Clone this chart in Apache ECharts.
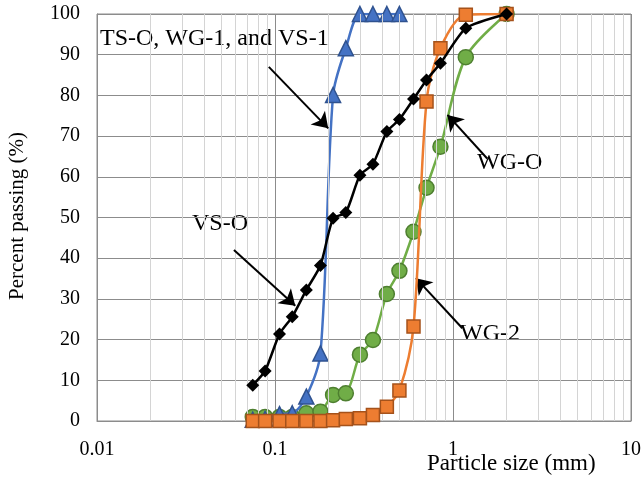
<!DOCTYPE html>
<html>
<head>
<meta charset="utf-8">
<script src="https://cdn.jsdelivr.net/npm/echarts@6/dist/echarts.min.js"></script>
<style>html,body{margin:0;padding:0;background:#fff}#c{width:644px;height:485px}</style>
</head>
<body>
<div id="c"></div>
<script>
// Sieve sizes (mm)
const sizes = [0.075, 0.088, 0.106, 0.125, 0.15, 0.18, 0.212, 0.25, 0.3, 0.355, 0.425, 0.5, 0.6, 0.71, 0.85, 1.18, 2.0];
// Percent passing
const vsO = [8.8, 12.3, 21.4, 25.6, 32.2, 38.2, 49.8, 51.2, 60.4, 63.1, 71.1, 74.1, 79.1, 83.8, 87.9, 96.5, 100];
const tsO = [0.3, 0.5, 1.7, 1.9, 6.0, 16.6, 80.1, 91.6, 100, 100, 100, 100];
const wgO = [1, 1, 1, 1, 1.9, 2.3, 6.4, 6.8, 16.3, 19.9, 31.2, 36.9, 46.5, 57.3, 67.4, 89.4, 100];
const wg2 = [0, 0, 0, 0, 0, 0, 0.2, 0.5, 0.7, 1.5, 3.5, 7.5, 23.2, 78.5, 91.6, 99.8, 100];
// Axis ticks
const xTicks = [0.01, 0.1, 1, 10];
const minorX = [0.02,0.03,0.04,0.05,0.06,0.07,0.08,0.09,0.2,0.3,0.4,0.5,0.6,0.7,0.8,0.9,2,3,4,5,6,7,8,9];
// Annotation arrows [tail, tip] in data coords
const arrows = [
  [[0.0923, 87.0], [0.199, 71.9]],
  [[0.0588, 42.0], [0.130, 28.3]],
  [[1.556, 64.5], [0.931, 75.2]],
  [[1.128, 22.8], [0.619, 35.1]]
];
const labels = ['TS-O, WG-1, and VS-1', 'VS-O', 'WG-O', 'WG-2'];

const pair = (arr) => arr.map((v, i) => [sizes[i], v]);
const FONT = "'Liberation Serif', 'Times New Roman', serif";

const chart = echarts.init(document.getElementById('c'), null, {renderer: 'canvas'});
chart.setOption({
  animation: false,
  backgroundColor: '#fff',
  grid: {left: 97, right: 9, top: 14, bottom: 64, show: true, borderColor: '#8c8c8c', borderWidth: 1},
  xAxis: {
    type: 'log', logBase: 10, min: 0.01, max: 10,
    axisLine: {show: true, lineStyle: {color: '#8c8c8c', width: 1}},
    axisTick: {show: false},
    axisLabel: {color: '#000', fontFamily: FONT, fontSize: 20, margin: 19,
      formatter: (v) => { const t = xTicks.find(x => Math.abs(x - v) / x < 1e-6); return t === undefined ? '' : String(t); }},
    splitLine: {show: true, lineStyle: {color: '#8c8c8c', width: 1}}
  },
  yAxis: {
    type: 'value', min: 0, max: 100, interval: 10,
    axisLine: {show: true, lineStyle: {color: '#8c8c8c', width: 1}},
    axisTick: {show: false},
    axisLabel: {color: '#000', fontFamily: FONT, fontSize: 20, margin: 17},
    splitLine: {show: true, lineStyle: {color: '#8c8c8c', width: 1}}
  },
  graphic: [
    {type: 'text', left: 100, top: 27, style: {text: labels[0], font: "24px " + FONT, fill: '#000'}},
    {type: 'text', left: 192, top: 212, style: {text: labels[1], font: "24px " + FONT, fill: '#000'}},
    {type: 'text', left: 477, top: 151, style: {text: labels[2], font: "24px " + FONT, fill: '#000'}},
    {type: 'text', left: 460, top: 322, style: {text: labels[3], font: "24px " + FONT, fill: '#000'}},
    {type: 'text', left: 427, top: 452, style: {text: 'Particle size (mm)', font: "23px " + FONT, fill: '#000'}},
    {type: 'text', rotation: Math.PI / 2, x: 7, y: 300, style: {text: 'Percent passing (%)', font: "21px " + FONT, fill: '#000'}}
  ],
  series: [
    {type: 'line', data: [], silent: true, z: 1,
      markLine: {silent: true, symbol: 'none', label: {show: false},
        lineStyle: {color: '#d4d4d4', type: 'solid', width: 1},
        data: minorX.map(v => ({xAxis: v}))}},
    {name: 'WG-O', type: 'line', data: pair(wgO), z: 3, smooth: 0.3,
      symbol: 'circle', symbolSize: 15,
      lineStyle: {color: '#70AD47', width: 2.5},
      itemStyle: {color: '#70AD47', borderColor: '#4E7F30', borderWidth: 1.5}},
    {name: 'TS-O', type: 'line', data: pair(tsO), z: 4, smooth: 0.3,
      symbol: 'triangle', symbolSize: 15,
      lineStyle: {color: '#4472C4', width: 2.5},
      itemStyle: {color: '#4472C4', borderColor: '#2F528F', borderWidth: 1.5}},
    {name: 'WG-2', type: 'line', data: pair(wg2), z: 5, smooth: 0.3,
      symbol: 'rect', symbolSize: 13,
      lineStyle: {color: '#ED7D31', width: 2.5},
      itemStyle: {color: '#ED7D31', borderColor: '#A5521B', borderWidth: 1.5}},
    {name: 'VS-O', type: 'line', data: pair(vsO), z: 6, smooth: 0.2,
      symbol: 'diamond', symbolSize: 13,
      lineStyle: {color: '#000', width: 2.5},
      itemStyle: {color: '#000'}},
    {type: 'line', data: [], silent: true, z: 7,
      markLine: {silent: true, symbol: ['none', 'arrow'], symbolSize: 15, label: {show: false},
        lineStyle: {color: '#000', type: 'solid', width: 2},
        data: arrows.map(a => [{coord: a[0]}, {coord: a[1]}])}}
  ]
});
</script>
</body>
</html>
